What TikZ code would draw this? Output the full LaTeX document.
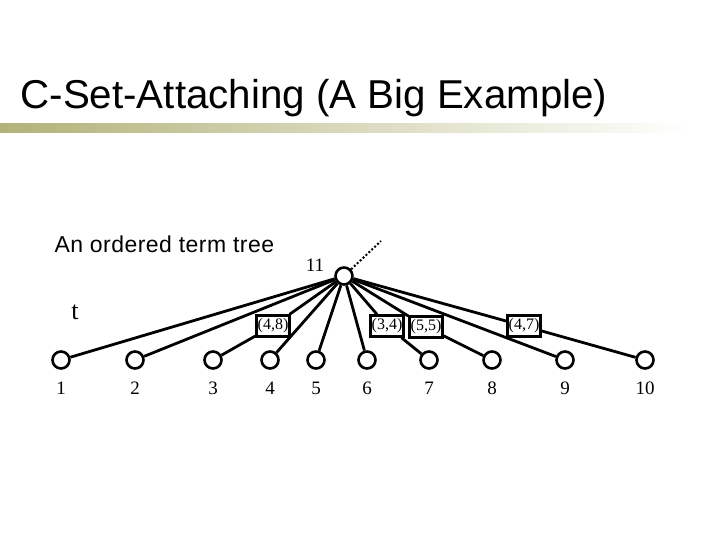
\documentclass[tikz,border=0pt]{standalone}
\usepackage{fontspec}
\setmainfont{Liberation Serif}
\setsansfont{Liberation Sans}
\begin{document}
\begin{tikzpicture}[x=1pt,y=-1pt,
  leaf/.style={circle,draw,line width=2.6pt,minimum size=17pt,inner sep=0pt,fill=white},
  numlab/.style={font=\fontsize{19}{19}\selectfont},
  pairbox/.style={draw,line width=2.4pt,fill=white,inner sep=1pt,minimum height=21pt,minimum width=33pt,font=\fontsize{16}{16}\selectfont},
  edge/.style={line width=2.8pt}]
\useasboundingbox (0,0) rectangle (720,540);
% title
\node[anchor=west,font=\sffamily\fontsize{40.3}{40.3}\selectfont] (title) at (17,98) {C-Set-Attaching (A Big Example)};
\shade[left color={rgb,255:red,178;green,178;blue,122},right color=white,shading angle=90] (0,124) rectangle (690,133);
\node[anchor=west,font=\sffamily\fontsize{23}{23}\selectfont\addfontfeature{LetterSpace=2}] (cap) at (51,244) {An ordered term tree};
\node[font=\fontsize{26}{26}\selectfont] (t) at (75,312) {t};
% tree
\node[leaf] (r) at (344,276) {};
\node[numlab] (l11) at (315,265) {11};
\coordinate (up) at (381,241);
\foreach \i/\x in {1/61,2/135,3/213,4/270,5/316,6/367,7/429,8/492,9/565,10/645}{
  \node[leaf] (n\i) at (\x,360) {};
  \node[numlab] (t\i) at (\x,388) {\i};
}
\node[pairbox] (b48) at (273,326) {(4,8)};
\node[pairbox] (b34) at (387,326) {(3,4)};
\node[pairbox] (b55) at (426,327) {(5,5)};
\node[pairbox] (b47) at (524,326) {(4,7)};
\foreach \i in {1,2,4,5,6,9}{\draw[edge] (r) -- (n\i);}
\draw[edge] (r) -- (b48) -- (n3);
\draw[edge] (r) -- (b34) -- (n7);
\draw[edge] (r) -- (b55) -- (n8);
\draw[edge] (r) -- (b47) -- (n10);
\draw[line width=2pt,dotted] (r) -- (up);
\end{tikzpicture}
\end{document}
